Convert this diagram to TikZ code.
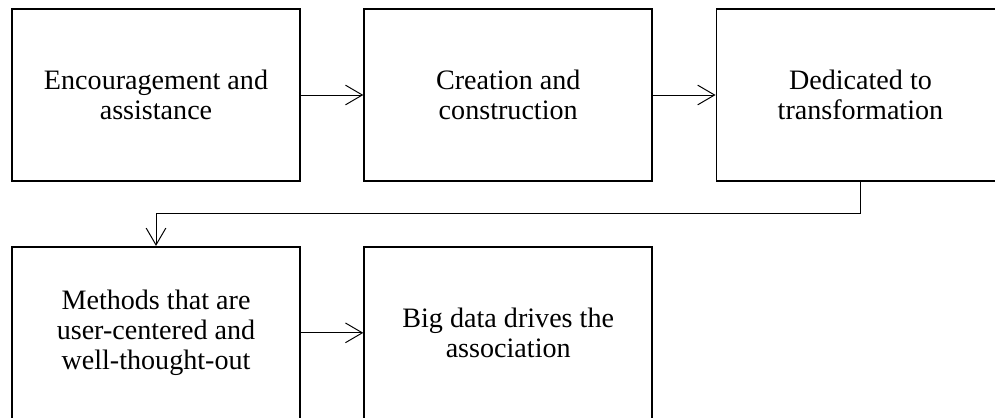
\documentclass[tikz,border=0pt]{standalone}
\usepackage{fontspec}
\setmainfont{Liberation Serif}
\usetikzlibrary{arrows.meta,positioning}

\begin{document}
\begin{tikzpicture}[
  node distance=1.6cm and 1.56cm,
  stage/.style={rectangle, draw=black, line width=1.3pt, minimum width=7.2cm,
                minimum height=4.3cm, align=center, inner sep=0pt,
                font=\fontsize{20}{21.3}\selectfont},
  arr/.style={-{Straight Barb[length=12pt, width=14pt, line width=0.7pt]},
              line width=0.7pt}
]
  \clip (0,0) rectangle (24.875,-10.45);

  % top row
  \node[stage] (encour) at (3.9,-2.375) {Encouragement and\\assistance};
  \node[stage] (create) [right=of encour] {Creation and\\construction};
  \node[stage] (dedic)  [right=of create] {Dedicated to\\transformation};

  % bottom row
  \node[stage] (methods) [below=of encour] {Methods that are\\user-centered and\\well-thought-out};
  \node[stage] (bigdata) [right=of methods] {Big data drives the\\association};

  % Arrows
  \draw[arr] (encour) -- (create);
  \draw[arr] (create) -- (dedic);
  \draw[arr] (dedic.south) -- ++(0,-0.8) -| (methods.north);
  \draw[arr] (methods) -- (bigdata);
\end{tikzpicture}
\end{document}
